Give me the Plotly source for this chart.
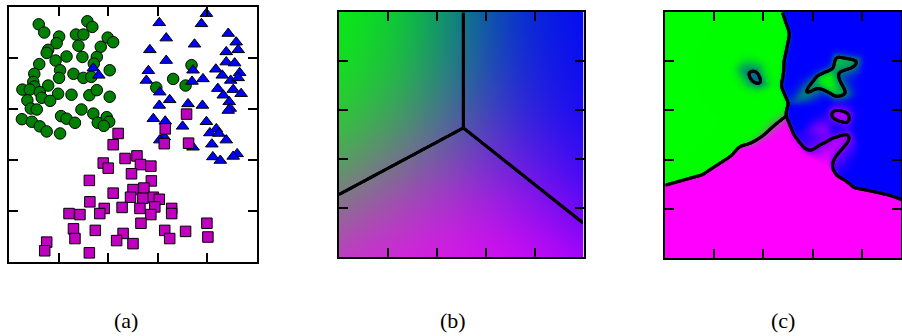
import numpy as np
import plotly.graph_objects as go

# ---- scatter data: three classes in the unit-5 square ----
green_x = [0.60, 0.71, 1.58, 1.68, 1.35, 1.50, 1.01, 0.96, 1.99, 2.10, 1.85, 1.40, 0.79, 0.76,
           1.16, 1.48, 1.77, 0.94, 0.61, 1.71, 2.03, 1.03, 1.30, 1.50, 1.66, 0.51, 0.49, 1.01,
           0.79, 0.51, 0.27, 0.42, 0.62, 0.99, 1.26, 1.62, 1.77, 2.03, 0.37, 0.66, 0.83, 0.44,
           0.56, 1.46, 1.70, 0.26, 0.46, 1.05, 1.16, 1.33, 1.79, 1.97, 2.02, 1.91, 0.62, 0.76,
           1.03, 3.68, 3.31, 3.56, 2.97]
green_y = [4.66, 4.50, 4.72, 4.61, 4.46, 4.46, 4.42, 4.29, 4.40, 4.31, 4.22, 4.24, 4.16, 4.10,
           4.03, 4.02, 4.02, 3.95, 3.88, 3.89, 3.76, 3.76, 3.69, 3.61, 3.63, 3.69, 3.53, 3.61,
           3.46, 3.44, 3.38, 3.38, 3.33, 3.30, 3.28, 3.27, 3.37, 3.24, 3.17, 3.22, 3.16, 3.01,
           2.99, 2.99, 2.91, 2.80, 2.75, 2.86, 2.81, 2.73, 2.73, 2.84, 2.75, 2.67, 2.66, 2.56,
           2.52, 3.86, 3.59, 3.46, 3.42]

blue_x = [3.98, 3.88, 3.03, 4.42, 3.17, 4.58, 3.74, 2.84, 4.62, 4.38, 3.17, 4.38, 4.55, 1.70,
          1.81, 2.81, 3.71, 4.17, 4.65, 2.77, 3.91, 3.69, 4.30, 4.47, 4.62, 4.21, 3.04, 4.52,
          4.32, 4.68, 3.24, 3.61, 3.03, 3.90, 4.44, 4.46, 4.42, 2.91, 3.15, 3.50, 3.98, 4.18,
          4.05, 4.23, 3.13, 3.04, 4.38, 3.71, 4.09, 4.60, 4.52, 4.11, 4.26]
blue_y = [4.87, 4.67, 4.69, 4.48, 4.39, 4.31, 4.27, 4.16, 4.16, 4.12, 3.95, 3.92, 3.90, 3.80,
          3.66, 3.75, 3.76, 3.78, 3.71, 3.56, 3.59, 3.54, 3.66, 3.56, 3.61, 3.40, 3.33, 3.38,
          3.27, 3.30, 3.18, 3.10, 3.07, 3.07, 3.14, 3.01, 2.97, 2.81, 2.76, 2.66, 2.75, 2.61,
          2.53, 2.52, 2.45, 2.39, 2.39, 2.25, 2.31, 2.12, 2.07, 2.06, 1.99]

magenta_x = [3.58, 3.15, 2.20, 2.10, 3.13, 3.62, 2.34, 2.58, 1.90, 2.00, 2.65, 2.86, 2.47, 1.62,
             2.87, 2.72, 2.50, 2.10, 2.45, 2.70, 2.91, 3.03, 1.63, 1.92, 1.83, 2.28, 2.64, 2.94,
             3.28, 1.21, 1.43, 2.86, 3.28, 2.66, 3.99, 1.30, 1.74, 2.30, 3.14, 3.56, 1.33, 2.17,
             2.50, 3.24, 4.01, 0.76, 0.72, 1.62]
magenta_y = [2.90, 2.61, 2.52, 2.30, 2.32, 2.33, 2.03, 2.08, 1.94, 1.84, 1.91, 1.88, 1.73, 1.60,
             1.59, 1.45, 1.42, 1.35, 1.27, 1.25, 1.27, 1.23, 1.18, 1.05, 0.95, 1.07, 1.05, 1.08,
             1.05, 0.95, 0.93, 0.93, 0.95, 0.76, 0.76, 0.65, 0.62, 0.56, 0.62, 0.60, 0.46, 0.42,
             0.36, 0.46, 0.49, 0.39, 0.22, 0.18]

panel_labels = ["(a)", "(b)", "(c)"]

# (b) linear softmax model: per-class logit = wx*x + wy*y + bias (green, blue, magenta)
logit_wx = [0.0, 1.13, 0.455]
logit_wy = [0.0, 0.0, -0.85]
logit_bias = [0.0, -2.88, 1.08]

# (c) Parzen window classifier bandwidth
kernel_width = 0.13

GREEN, BLUE, MAGENTA = "#008000", "#0000ff", "#bf00bf"
class_rgb = np.array([[0, 255, 0], [0, 0, 255], [255, 0, 255]], dtype=float)

classes = [np.column_stack([green_x, green_y]),
           np.column_stack([blue_x, blue_y]),
           np.column_stack([magenta_x, magenta_y])]

# evaluation grid
n = 250
step = 5.0 / n
gx = (np.arange(n) + 0.5) * step
gy = (np.arange(n) + 0.5) * step
XX, YY = np.meshgrid(gx, gy)
grid = np.column_stack([XX.ravel(), YY.ravel()])


def softmax_rows(logits):
    logits = logits - logits.max(axis=1, keepdims=True)
    e = np.exp(logits)
    return e / e.sum(axis=1, keepdims=True)


def sqdist(a, b):
    return ((a[:, None, :] - b[None, :, :]) ** 2).sum(axis=2)


# (b) linear softmax
logits_b = (np.outer(grid[:, 0], logit_wx) + np.outer(grid[:, 1], logit_wy)
            + np.asarray(logit_bias)[None, :])
prob_b = softmax_rows(logits_b)

# (c) Parzen window classifier
log_dens = []
for c in classes:
    d = -sqdist(grid, c) / (2 * kernel_width ** 2)
    m = d.max(axis=1, keepdims=True)
    log_dens.append((m + np.log(np.exp(d - m).sum(axis=1, keepdims=True)))[:, 0])
prob_c = softmax_rows(np.column_stack(log_dens))


def to_image(prob):
    rgb = prob @ class_rgb
    return np.clip(rgb, 0, 255).reshape(n, n, 3).astype(np.uint8)


def boundary_fields(prob):
    out = []
    for k in range(3):
        others = np.delete(prob, k, axis=1).max(axis=1)
        out.append((prob[:, k] - others).reshape(n, n))
    return out


fig = go.Figure()

# panel (a): scatter
for xs, ys, sym, col, size in [(green_x, green_y, "circle", GREEN, 11.5),
                               (blue_x, blue_y, "triangle-up", BLUE, 11),
                               (magenta_x, magenta_y, "square", MAGENTA, 10.5)]:
    fig.add_trace(go.Scatter(x=xs, y=ys, mode="markers", xaxis="x", yaxis="y",
                             marker=dict(symbol=sym, size=size, color=col,
                                         line=dict(color="black", width=1)),
                             showlegend=False, hoverinfo="skip"))

# panels (b) and (c): probability images with decision boundaries
for prob, xa, ya in [(prob_b, "x2", "y2"), (prob_c, "x3", "y3")]:
    fig.add_trace(go.Image(z=to_image(prob), x0=gx[0], dx=step, y0=gy[0], dy=step,
                           xaxis=xa, yaxis=ya, hoverinfo="skip"))
    for f in boundary_fields(prob):
        fig.add_trace(go.Contour(z=f, x=gx, y=gy, xaxis=xa, yaxis=ya,
                                 autocontour=False,
                                 contours=dict(start=0, end=0, size=1, coloring="none"),
                                 line=dict(color="black", width=3),
                                 showscale=False, showlegend=False, hoverinfo="skip"))

W_PX, H_PX = 902, 336
axis_common = dict(showline=True, linecolor="black", linewidth=2, mirror="ticks",
                   ticks="inside", ticklen=9, tickwidth=1.5, tickcolor="black",
                   tickvals=[1, 2, 3, 4], showticklabels=False, showgrid=False,
                   zeroline=False, fixedrange=True)


def dom(lo, hi, total):
    return [lo / total, hi / total]


fig.update_layout(
    width=W_PX, height=H_PX, margin=dict(l=0, r=0, t=0, b=0),
    paper_bgcolor="white", plot_bgcolor="white",
    xaxis=dict(axis_common, domain=dom(9, 257, W_PX), range=[0, 5], anchor="y"),
    yaxis=dict(axis_common, domain=dom(H_PX - 262, H_PX - 7, H_PX), range=[0, 5], anchor="x"),
    xaxis2=dict(axis_common, domain=dom(337, 585, W_PX), range=[0, 5], anchor="y2"),
    yaxis2=dict(axis_common, domain=dom(H_PX - 257, H_PX - 12, H_PX), range=[0, 5], anchor="x2"),
    xaxis3=dict(axis_common, domain=[664 / W_PX, 1.0], range=[0, 5 * (902 - 664) / 248], anchor="y3"),
    yaxis3=dict(axis_common, domain=dom(H_PX - 258, H_PX - 12, H_PX), range=[0, 5], anchor="x3"),
)

for label, cx in zip(panel_labels, [126, 453, 783]):
    fig.add_annotation(text=label, x=cx / W_PX, y=(H_PX - 320) / H_PX, xref="paper", yref="paper",
                       xanchor="center", yanchor="middle", showarrow=False,
                       font=dict(family="Liberation Serif", size=22, color="black"))

fig.write_html("out.html")
